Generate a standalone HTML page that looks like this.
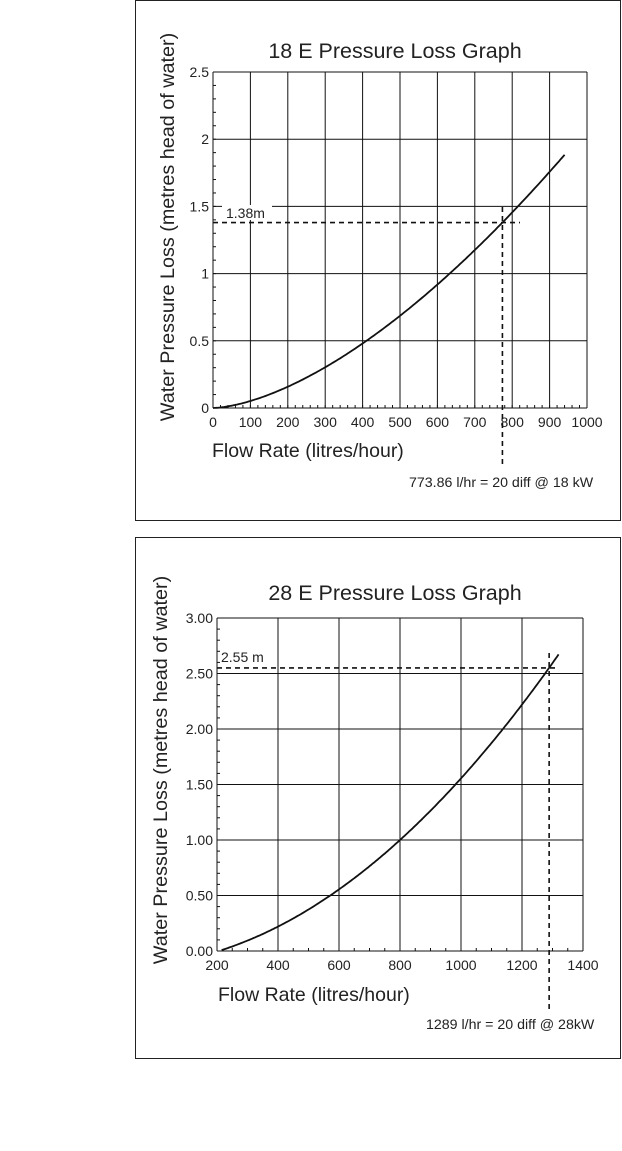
<!DOCTYPE html>
<html><head><meta charset="utf-8"><style>
html,body{margin:0;padding:0;background:#fff;}
svg{display:block;font-family:"Liberation Sans",sans-serif;}
</style></head><body>
<svg id="s" width="622" height="1151" viewBox="0 0 622 1151" xmlns="http://www.w3.org/2000/svg">
<rect x="135.5" y="0.5" width="485" height="520" fill="none" stroke="#222" stroke-width="1"/>
<rect x="135.5" y="537.5" width="485" height="521" fill="none" stroke="#222" stroke-width="1"/>
<text x="395" y="58" font-size="21.5" text-anchor="middle" fill="#222">18 E Pressure Loss Graph</text>
<text transform="translate(174,227) rotate(-90)" font-size="19.8" text-anchor="middle" fill="#222">Water Pressure Loss (metres head of water)</text>
<text x="212" y="457" font-size="19.5" fill="#222">Flow Rate (litres/hour)</text>
<text x="409" y="487" font-size="14.2" fill="#222">773.86 l/hr = 20 diff @ 18 kW</text>
<text x="395" y="600" font-size="21.5" text-anchor="middle" fill="#222">28 E Pressure Loss Graph</text>
<text transform="translate(167,770) rotate(-90)" font-size="19.8" text-anchor="middle" fill="#222">Water Pressure Loss (metres head of water)</text>
<text x="218" y="1001" font-size="19.5" fill="#222">Flow Rate (litres/hour)</text>
<text x="426" y="1029" font-size="14.2" fill="#222">1289 l/hr = 20 diff @ 28kW</text>
<g id="g"></g>
</svg>
<script>
var g=document.getElementById('g'),h='';
function L(x1,y1,x2,y2,w,d){h+='<line x1="'+x1+'" y1="'+y1+'" x2="'+x2+'" y2="'+y2+'" stroke="#111" stroke-width="'+(w||1)+'"'+(d?' stroke-dasharray="'+d+'"':'')+'/>';}
function T(x,y,s,a,fs){h+='<text x="'+x+'" y="'+y+'" font-size="'+(fs||14)+'" text-anchor="'+(a||'middle')+'" fill="#222">'+s+'</text>';}
function chart(o){
 var X=function(v){return o.l+(v-o.x0)/(o.x1-o.x0)*(o.r-o.l)};
 var Y=function(v){return o.b-(v-o.y0)/(o.y1-o.y0)*(o.b-o.t)};
 for(var v=o.x0;v<=o.x1+1e-9;v+=o.xs){var x=X(v);L(x,o.t,x,o.b,1);T(x,o.b+19,v,'middle',14);}
 for(var v=o.x0;v<=o.x1+1e-9;v+=o.xm){var x=X(v);L(x,o.b-3,x,o.b,1);}
 for(var v=o.y0;v<=o.y1+1e-9;v+=o.ys){var y=Y(v);L(o.l,y,o.r,y,1);T(o.l-4,y+5,o.fmt(v),'end',14);}
 for(var v=o.y0;v<=o.y1+1e-9;v+=o.ym){var y=Y(v);L(o.l,y,o.l+3,y,1);}
 var p='';for(var v=o.c0;v<=o.c1;v+=5){p+=(p?'L':'M')+X(v).toFixed(1)+','+Y(o.f(v)).toFixed(1);}
 h+='<path d="'+p+'" fill="none" stroke="#111" stroke-width="1.8"/>';
 var yy=Y(o.py);L(o.l,yy,o.hx,yy,1.6,'5,4');
 var xx=X(o.px);L(xx,o.vy0,xx,o.vy1,1.6,'5,4');
 h+='<rect x="'+(o.lx-4)+'" y="'+(o.ly-13)+'" width="'+o.lw+'" height="15" fill="#fff"/>';
 T(o.lx,o.ly,o.lab,'start',14);
}
chart({l:213,r:587,t:72,b:408,x0:0,x1:1000,xs:100,xm:20,y0:0,y1:2.5,ys:0.5,ym:0.1,
 fmt:function(v){return (Math.round(v*10)/10).toString()},
 f:function(x){return 1.38*Math.pow(x/773.86,1.6)},c0:0,c1:940,
 py:1.38,px:773.86,hx:520,vy0:207,vy1:465,lx:226,ly:218,lw:50,lab:'1.38m'});
chart({l:217,r:583,t:618,b:951,x0:200,x1:1400,xs:200,xm:50,y0:0,y1:3,ys:0.5,ym:0.1,
 fmt:function(v){return v.toFixed(2)},
 f:function(x){return 1.375e-6*x*x+0.0003*x-0.12},c0:215,c1:1320,
 py:2.55,px:1289,hx:559,vy0:653,vy1:1010,lx:221,ly:662,lw:0,lab:'2.55 m'});
g.innerHTML=h;
</script>
</body></html>
